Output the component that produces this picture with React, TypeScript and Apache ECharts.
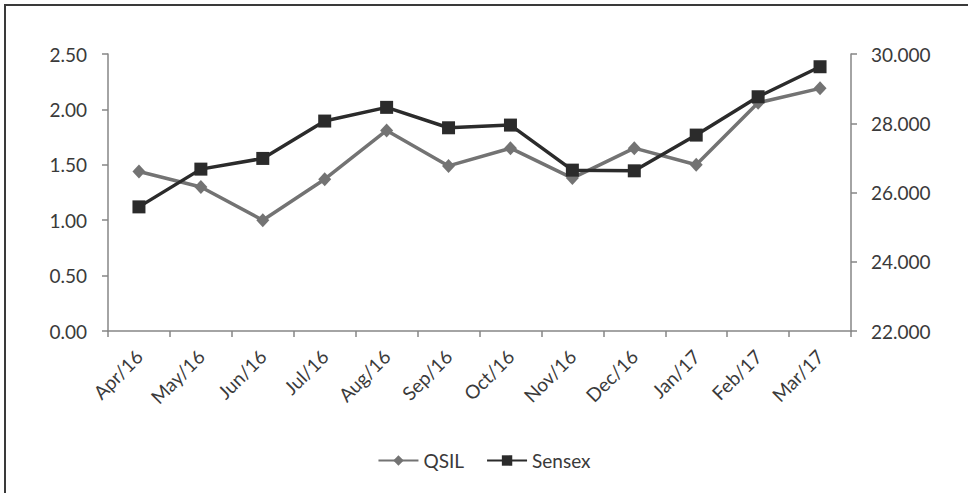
import React, { useEffect, useRef } from "react";
import * as echarts from "echarts";

const categories = ["Apr/16", "May/16", "Jun/16", "Jul/16", "Aug/16", "Sep/16", "Oct/16", "Nov/16", "Dec/16", "Jan/17", "Feb/17", "Mar/17"];
const qsil = [1.44, 1.30, 1.00, 1.37, 1.81, 1.49, 1.65, 1.38, 1.65, 1.50, 2.06, 2.19];
const sensex = [25585, 26675, 26984, 28063, 28459, 27869, 27947, 26646, 26626, 27658, 28765, 29632];

const FONT = "Lato";
const TXT = "#3a3a3a";
const AXIS = "#868686";
const FS = 19;

export default function App() {
  const ref = useRef<HTMLDivElement>(null);
  useEffect(() => {
    const chart = echarts.init(ref.current!, null, { renderer: "svg" });
    chart.setOption({
      animation: false,
      backgroundColor: "#ffffff",
      textStyle: { fontFamily: FONT },
      graphic: [
        {
          type: "rect",
          shape: { x: 5, y: 5, width: 1100, height: 600 },
          style: { fill: "none", stroke: "#3a3a3a", lineWidth: 2 },
          silent: true,
        },
      ],
      grid: { left: 108, right: 117, top: 54, bottom: 162 },
      legend: {
        bottom: 18,
        left: "center",
        itemWidth: 40,
        itemHeight: 13,
        itemGap: 22,
        textStyle: { fontFamily: FONT, fontSize: FS, color: TXT },
        data: ["QSIL", "Sensex"],
      },
      xAxis: {
        type: "category",
        data: categories,
        boundaryGap: true,
        axisLine: { lineStyle: { color: AXIS, width: 1.5 } },
        axisTick: { show: true, alignWithLabel: false, length: 6, lineStyle: { color: AXIS, width: 1.5 } },
        axisLabel: { rotate: 45, color: TXT, fontFamily: FONT, fontSize: FS, margin: 22, interval: 0 },
      },
      yAxis: [
        {
          type: "value",
          min: 0,
          max: 2.5,
          interval: 0.5,
          position: "left",
          splitLine: { show: false },
          axisLine: { show: true, lineStyle: { color: AXIS, width: 1.5 } },
          axisTick: { show: true, length: 6, lineStyle: { color: AXIS, width: 1.5 } },
          axisLabel: { color: TXT, fontFamily: FONT, fontSize: FS, margin: 21, formatter: (v: number) => v.toFixed(2) },
        },
        {
          type: "value",
          min: 22000,
          max: 30000,
          interval: 2000,
          position: "right",
          splitLine: { show: false },
          axisLine: { show: true, lineStyle: { color: AXIS, width: 1.5 } },
          axisTick: { show: true, length: 6, lineStyle: { color: AXIS, width: 1.5 } },
          axisLabel: {
            color: TXT,
            fontFamily: FONT,
            fontSize: FS,
            margin: 20,
            formatter: (v: number) => {
              const th = Math.floor(v / 1000);
              const rest = String(v % 1000).padStart(3, "0");
              return th + "." + rest;
            },
          },
        },
      ],
      series: [
        {
          name: "QSIL",
          type: "line",
          yAxisIndex: 0,
          data: qsil,
          symbol: "diamond",
          symbolSize: [13, 14],
          lineStyle: { color: "#737373", width: 3.5 },
          itemStyle: { color: "#737373" },
          z: 2,
        },
        {
          name: "Sensex",
          type: "line",
          yAxisIndex: 1,
          data: sensex,
          symbol: "rect",
          symbolSize: 13,
          lineStyle: { color: "#2b2b2b", width: 3.5 },
          itemStyle: { color: "#2b2b2b" },
          z: 3,
        },
      ],
    });
    return () => chart.dispose();
  }, []);
  return <div ref={ref} style={{ position: "fixed", left: 0, top: 0, width: 968, height: 493 }} />;
}
